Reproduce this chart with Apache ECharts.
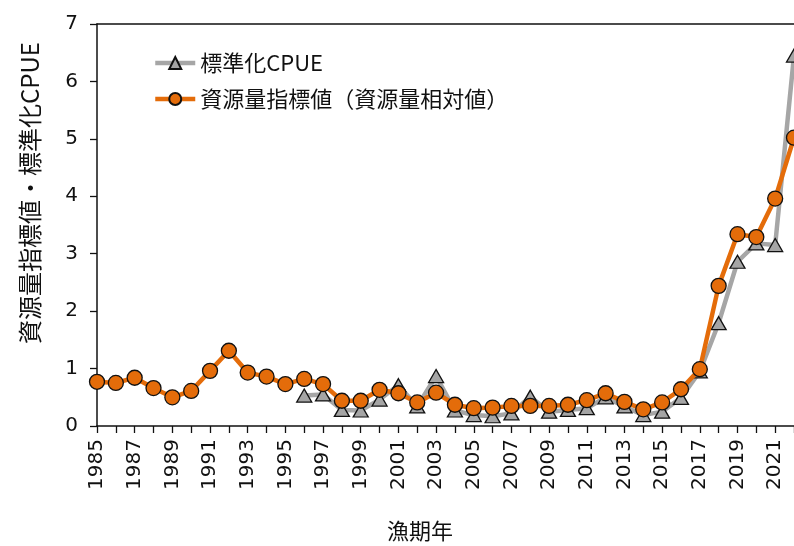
<!DOCTYPE html>
<html>
<head>
<meta charset="utf-8">
<script src="https://cdn.jsdelivr.net/npm/echarts@6/dist/echarts.min.js"></script>
<style>
html,body{margin:0;padding:0;background:#fff;}
#chart{width:794px;height:546px;}
</style>
</head>
<body>
<div id="chart"></div>
<script>
var years = ['1985','1986','1987','1988','1989','1990','1991','1992','1993','1994','1995','1996','1997','1998','1999','2000','2001','2002','2003','2004','2005','2006','2007','2008','2009','2010','2011','2012','2013','2014','2015','2016','2017','2018','2019','2020','2021','2022'];
var cpueName = '標準化CPUE';
var indexName = '資源量指標値（資源量相対値）';
var cpue = [null,null,null,null,null,null,null,null,null,null,null,
  0.53,0.55,0.28,0.27,0.46,0.71,0.34,0.87,0.27,0.19,0.17,0.22,0.51,0.25,0.28,
  0.31,0.50,0.34,0.19,0.25,0.49,0.95,1.79,2.86,3.18,3.15,6.45];
var resIndex = [0.77,0.75,0.84,0.66,0.50,0.61,0.96,1.31,0.93,0.86,0.73,0.82,0.73,0.44,0.44,0.63,0.57,0.41,0.58,0.37,0.31,0.32,0.35,0.35,0.35,0.37,
  0.45,0.57,0.42,0.29,0.41,0.64,0.99,2.44,3.34,3.29,3.96,5.02];
var yTicks = {min:0, max:7, interval:1};
var xTitle = '漁期年';
var yTitle = '資源量指標値・標準化CPUE';

var JP = '"Noto Sans CJK JP", "Noto Sans", sans-serif';
var NUM = '"DejaVu Sans", Verdana, sans-serif';
var chart = echarts.init(document.getElementById('chart'), null, {renderer:'canvas'});
chart.setOption({
  animation:false,
  backgroundColor:'#fff',
  grid:{left:97, top:24, right:-7, bottom:120, containLabel:false},
  legend:{
    orient:'vertical', left:148, top:47, padding:5, itemWidth:40, itemHeight:15, itemGap:14,
    textStyle:{fontFamily:JP, fontSize:22, color:'#111'},
    data:[
      {name:cpueName, lineStyle:{width:4.5, color:'#A6A6A6'}},
      {name:indexName, lineStyle:{width:4.5, color:'#E46C0A'}}
    ]
  },
  xAxis:[{
    type:'category', data:years, boundaryGap:false,
    axisLine:{lineStyle:{color:'#111', width:1.5}},
    axisTick:{show:true, interval:0, length:7, lineStyle:{color:'#111', width:1.3}},
    axisLabel:{interval:1, rotate:90, margin:13, fontFamily:NUM, fontSize:20, color:'#111'},
    splitLine:{show:false}
  },{
    type:'category', data:years, boundaryGap:false, position:'top',
    axisLine:{show:true, lineStyle:{color:'#111', width:1.5}},
    axisTick:{show:false}, axisLabel:{show:false}, splitLine:{show:false}
  }],
  yAxis:{
    type:'value', min:yTicks.min, max:yTicks.max, interval:yTicks.interval,
    axisLine:{show:true, lineStyle:{color:'#111', width:1.5}},
    axisTick:{show:true, length:7, lineStyle:{color:'#111', width:1.3}},
    axisLabel:{margin:19, fontFamily:NUM, fontSize:20, color:'#111'},
    splitLine:{show:false}
  },
  series:[{
    name:cpueName, type:'line', data:cpue, connectNulls:false,
    symbol:'triangle', symbolSize:[15,13], showAllSymbol:true,
    lineStyle:{color:'#A6A6A6', width:4.5},
    itemStyle:{color:'#A5A5A5', borderColor:'#111', borderWidth:1.3},
    z:2
  },{
    name:indexName, type:'line', data:resIndex,
    symbol:'circle', symbolSize:15, showAllSymbol:true,
    lineStyle:{color:'#E46C0A', width:4.5},
    itemStyle:{color:'#E46C0A', borderColor:'#111', borderWidth:1.3},
    z:3
  }],
  graphic:[{
    type:'text', x:30, y:193, rotation:Math.PI/2,
    style:{text:yTitle, fontFamily:JP, fontSize:24, fill:'#111', textAlign:'center', textVerticalAlign:'middle'}
  },{
    type:'text', x:420, y:531,
    style:{text:xTitle, fontFamily:JP, fontSize:22, fill:'#111', textAlign:'center', textVerticalAlign:'middle'}
  }]
});
</script>
</body>
</html>
